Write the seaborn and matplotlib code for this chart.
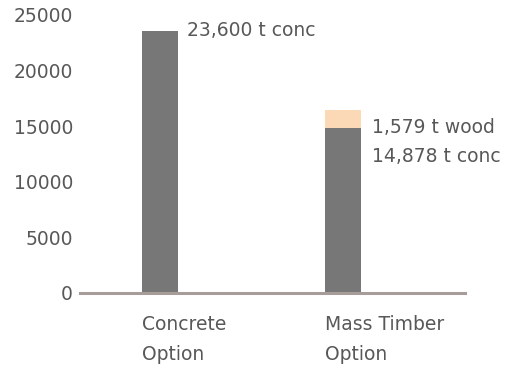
import matplotlib
matplotlib.use("Agg")
import matplotlib.pyplot as plt
from matplotlib.transforms import ScaledTranslation
import pandas as pd
import seaborn as sns

# Embodied material (tonnes) for the two structural options
options = ["Concrete\nOption", "Mass Timber\nOption"]
concrete_t = [23600, 14878]
wood_t = [0, 1579]
y_ticks = [0, 5000, 10000, 15000, 20000, 25000]

GRAY = "#777777"
PEACH = "#fbd9b6"
TEXT = "#585858"
AXIS = "#a69c9a"
BAR_W = 0.2
FS = 13.5

sns.set_theme(style="white")
plt.rcParams["font.family"] = ["DejaVu Sans"]

df = pd.DataFrame({
    "option": options,
    "concrete": concrete_t,
    "wood": wood_t,
})
df["total"] = df["concrete"] + df["wood"]

fig = plt.figure(figsize=(5.08, 3.69), dpi=100)
ax = fig.add_axes([80 / 508, 76 / 369, 385 / 508, 278 / 369])

# stacked bar: full height in wood colour, concrete drawn over it
sns.barplot(data=df, x="option", y="total", color=PEACH, width=BAR_W,
            saturation=1, linewidth=0, ax=ax)
sns.barplot(data=df, x="option", y="concrete", color=GRAY, width=BAR_W,
            saturation=1, linewidth=0, ax=ax)

ax.set_xlim(-0.437, 1.667)
ax.set_ylim(0, 25000)
ax.set_yticks(y_ticks)
ax.set_yticklabels([str(v) for v in y_ticks])
ax.set_xlabel("")
ax.set_ylabel("")

for side in ("top", "right", "left"):
    ax.spines[side].set_visible(False)
ax.spines["bottom"].set_color(AXIS)
ax.spines["bottom"].set_linewidth(2.2)

ax.tick_params(axis="y", length=0, pad=5, labelsize=FS, labelcolor=TEXT)
ax.tick_params(axis="x", length=0, pad=16, labelsize=FS, labelcolor=TEXT)

# category labels start at the left edge of each bar
shift = ScaledTranslation(-BAR_W / 2 * 183 / 100, 0, fig.dpi_scale_trans)
for lab in ax.get_xticklabels():
    lab.set_horizontalalignment("left")
    lab.set_verticalalignment("top")
    lab.set_linespacing(1.75)
    lab.set_transform(lab.get_transform() + shift)

# value annotations
ax.annotate(f"{concrete_t[0]:,} t conc", xy=(0 + BAR_W / 2, concrete_t[0]),
            xytext=(6.5, 0), textcoords="offset points",
            ha="left", va="center", fontsize=FS, color=TEXT)
ax.annotate(f"{wood_t[1]:,} t wood", xy=(1 + BAR_W / 2, concrete_t[1]),
            xytext=(8, 0), textcoords="offset points",
            ha="left", va="center", fontsize=FS, color=TEXT)
ax.annotate(f"{concrete_t[1]:,} t conc", xy=(1 + BAR_W / 2, concrete_t[1]),
            xytext=(8, -21), textcoords="offset points",
            ha="left", va="center", fontsize=FS, color=TEXT)

fig.savefig("out.png", dpi=100, facecolor="white")
